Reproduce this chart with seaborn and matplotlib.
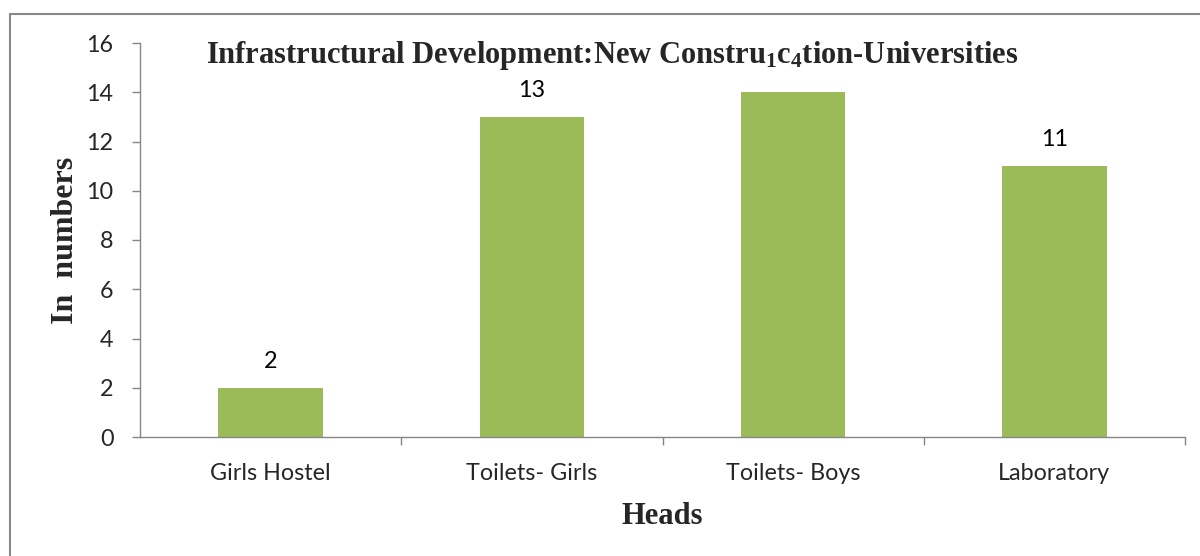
import matplotlib
matplotlib.use("Agg")
import matplotlib.pyplot as plt
import seaborn as sns
import pandas as pd
from matplotlib.patches import Rectangle

categories = ["Girls Hostel", "Toilets- Girls", "Toilets- Boys", "Laboratory"]
values = [2, 13, 14, 11]
shown_labels = ["2", "13", "", "11"]
y_ticks = [0, 2, 4, 6, 8, 10, 12, 14, 16]

sns.set_theme(style="white")
plt.rcParams['font.family'] = ['Lato', 'DejaVu Sans']
plt.rcParams['mathtext.fontset'] = 'custom'
plt.rcParams['mathtext.rm'] = 'Liberation Serif:bold'
plt.rcParams['mathtext.bf'] = 'Liberation Serif:bold'
plt.rcParams['mathtext.it'] = 'Liberation Serif:bold'

df = pd.DataFrame({"Heads": categories, "Value": values})

fig = plt.figure(figsize=(12, 5.56), dpi=100)
ax = fig.add_axes([140/1200, 1-437/556, (1185-140)/1200, (437-43)/556])

sns.barplot(data=df, x="Heads", y="Value", color="#9BBB59", width=0.4,
            saturation=1, ax=ax, edgecolor="none")

fs = 16.8
ax.set_ylim(0, 16)
ax.set_xlim(-0.5, 3.5)
ax.set_yticks(y_ticks)
ax.set_yticklabels([str(t) for t in y_ticks], fontsize=fs)
ax.set_xticks(range(len(categories)))
ax.set_xticklabels(categories, fontsize=fs)
ax.set_xticks([0.5, 1.5, 2.5, 3.5], minor=True)
ax.tick_params(axis='x', which='major', length=0, pad=19)
ax.tick_params(axis='x', which='minor', length=6, color="#868686", width=1, direction='out')
ax.tick_params(axis='y', which='major', length=6, color="#868686", width=1, direction='out', pad=13)
ax.yaxis.set_ticks_position('left')
ax.xaxis.set_ticks_position('bottom')

for s in ['top', 'right']:
    ax.spines[s].set_visible(False)
for s in ['left', 'bottom']:
    ax.spines[s].set_color("#868686")
    ax.spines[s].set_linewidth(1)

for i, (v, lab) in enumerate(zip(values, shown_labels)):
    if lab:
        ax.annotate(lab, (i, v), xytext=(0, 19), textcoords='offset points',
                    ha='center', va='center', fontsize=fs, color='black')

ax.set_xlabel("Heads", fontsize=22, fontweight='bold', family='Liberation Serif', labelpad=13)
ax.set_ylabel("In  numbers", fontsize=23, fontweight='bold', family='Liberation Serif', labelpad=5)

fig.text(612/1200, 1-55/556, r"Infrastructural Development:New Constru$_{1}$c$_{4}$tion-Universities",
         ha='center', va='center', fontsize=22, fontweight='bold', family='Liberation Serif')

fig.patches.append(Rectangle((10/1200, -0.1), 1.2, 1.1 - 14/556, transform=fig.transFigure,
                             fill=False, edgecolor="#888888", linewidth=1.5))

fig.savefig("out.png", dpi=100)
